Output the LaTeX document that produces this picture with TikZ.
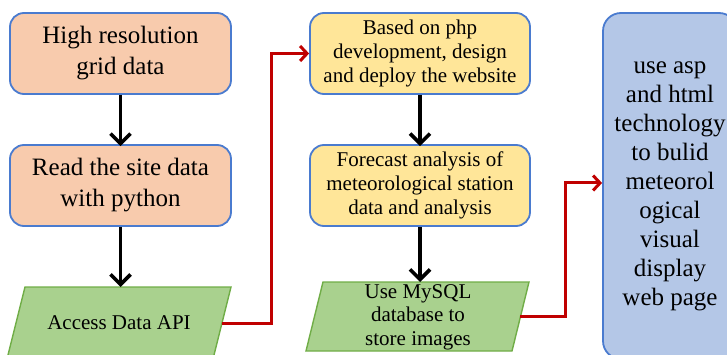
\documentclass[tikz,border=0pt]{standalone}
\usepackage{fontspec}
\setmainfont{Liberation Serif}
\usetikzlibrary{arrows.meta}
\definecolor{orfill}{HTML}{F8CBAD}
\definecolor{yefill}{HTML}{FFE699}
\definecolor{grfill}{HTML}{A9D18E}
\definecolor{grline}{HTML}{70AD47}
\definecolor{blfill}{HTML}{B4C7E7}
\definecolor{blline}{HTML}{4A7BCF}
\definecolor{redline}{HTML}{C00000}
\tikzset{
  rbox/.style={draw=blline, line width=1.8pt, rounded corners=14pt, inner sep=0pt, align=center},
  obox/.style={rbox, fill=orfill, minimum width=221pt, minimum height=81pt, font=\fontsize{25}{31}\selectfont},
  ybox/.style={rbox, fill=yefill, minimum width=220pt, minimum height=81pt, font=\fontsize{21}{24}\selectfont},
  para/.style={draw=grline, line width=1.4pt, fill=grfill},
  ptext/.style={inner sep=0pt, align=center, font=\fontsize{21}{23.5}\selectfont},
  blk/.style={line width=3.6pt, -{Straight Barb[length=10pt,width=20pt,line width=3.6pt]}},
  redarr/.style={draw=redline, line width=3pt, -{Straight Barb[length=7pt,width=15pt,line width=3pt]}}
}
\begin{document}
\begin{tikzpicture}[x=1pt,y=-1pt]
\useasboundingbox (0,0) rectangle (727,355);
% left column
\node[obox] (b1) at (120.5,53.5) {High resolution\\grid data};
\node[obox] (b2) at (120.5,185.5) {Read the site data\\with python};
\coordinate (p1tl) at (25,287);
\coordinate (p1tr) at (231,287);
\coordinate (p1br) at (213,359);
\coordinate (p1bl) at (7,359);
\draw[para] (p1tl) -- (p1tr) -- (p1br) -- (p1bl) -- cycle;
\node[ptext] (p1) at (119,323) {Access Data API};
\coordinate (p1out) at (222,323);
% middle column
\node[ybox] (b3) at (420,53.5) {Based on php\\development, design\\and deploy the website};
\node[ybox] (b4) at (420,185.5) {Forecast analysis of\\meteorological station\\data and analysis};
\coordinate (p2tl) at (323,282);
\coordinate (p2tr) at (529,282);
\coordinate (p2br) at (512,351);
\coordinate (p2bl) at (306,351);
\draw[para] (p2tl) -- (p2tr) -- (p2br) -- (p2bl) -- cycle;
\node[ptext] (p2) at (418,317) {Use MySQL\\database to\\store images};
\coordinate (p2out) at (520,316);
% right box
\node[rbox, fill=blfill, rounded corners=18pt, minimum width=134pt, minimum height=346pt,
      font=\fontsize{25}{29}\selectfont] (b5) at (670,186)
  {use asp\\and html\\technology\\to bulid\\meteorol\\ogical\\visual\\display\\web page};
% black arrows
\draw[blk] (b1.south) -- ([yshift=-2pt]b2.north);
\draw[blk] (b2.south) -- (p1tl -| b2.south);
\draw[blk] (b3.south) -- ([yshift=-2pt]b4.north);
\draw[blk] (b4.south) -- (p2tl -| b4.south);
% red connectors
\draw[redarr] (p1out) -- (271,323) |- (b3.west);
\draw[redarr] (p2out) -- (565,316) |- (b5.west |- 0,183);
\end{tikzpicture}
\end{document}
